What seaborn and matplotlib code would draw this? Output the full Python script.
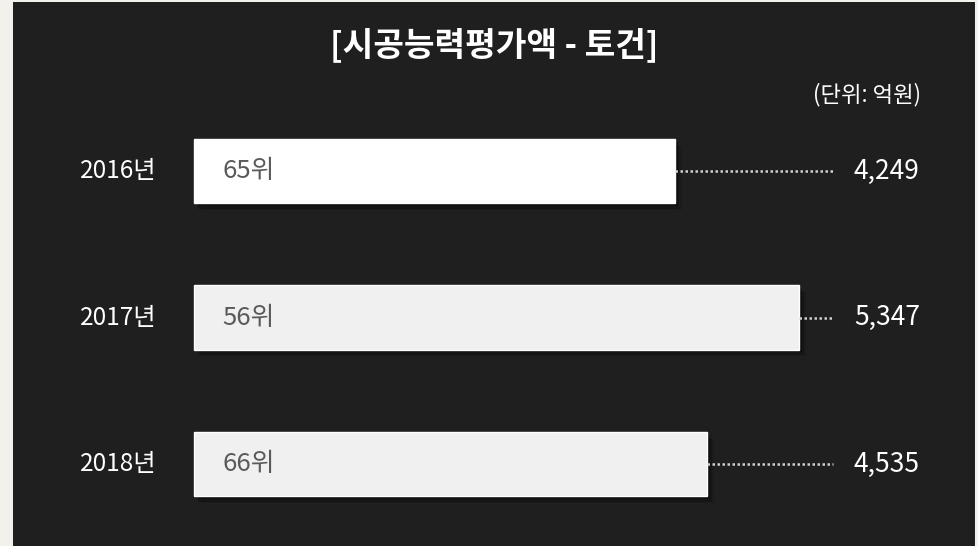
import pandas as pd
import seaborn as sns
import matplotlib.pyplot as plt
import matplotlib.patheffects as pe
from matplotlib import transforms

# data
years = ['2016년', '2017년', '2018년']
amounts = [4249, 5347, 4535]  # 억원
ranks = ['65위', '56위', '66위']
bar_colors = ['#ffffff', '#f0f0f0', '#f0f0f0']

df = pd.DataFrame({'year': years, 'amount': amounts, 'rank': ranks})

sns.set_theme(style='white')
plt.rcParams['font.family'] = ['Noto Sans CJK KR', 'DejaVu Sans']

fig = plt.figure(figsize=(9.79, 5.46), dpi=100, facecolor='#f3f1ec')
# dark panel
ax = fig.add_axes([13 / 979, 0, 962 / 979, 544 / 546])
ax.set_facecolor('#1f1f1f')

sns.barplot(data=df, x='amount', y='year', hue='year', palette=bar_colors,
            orient='h', width=0.437, legend=False, ax=ax, saturation=1)

# soft-ish drop shadow
for bar in ax.patches:
    bar.set_path_effects([
        pe.SimplePatchShadow(offset=(5, -5), shadow_rgbFace='black', alpha=0.12),
        pe.SimplePatchShadow(offset=(3, -4), shadow_rgbFace='black', alpha=0.2),
        pe.SimplePatchShadow(offset=(2, -2), shadow_rgbFace='black', alpha=0.25),
        pe.Normal()])

ax.set_xlim(-1599, 6898)
ax.set_ylim(2.56, -1.154)
ax.set_xlabel('')
ax.set_ylabel('')
ax.set_xticks([])
ax.set_yticks([])
for s in ax.spines.values():
    s.set_visible(False)

trans = transforms.blended_transform_factory(ax.transAxes, ax.transData)
line_end = 0.852
x_end = ax.transData.inverted().transform(ax.transAxes.transform((line_end, 0)))[0]
for i, row in df.iterrows():
    # dotted leader from bar end to value label
    ax.plot([row['amount'], x_end], [i, i],
            color='#cfcfcf', lw=1.8, ls=(0, (1, 1)), zorder=1)
    ax.text(0.1497, i, row['year'], transform=trans, ha='right', va='center',
            color='white', fontsize=17.5)
    ax.text(0.218, i, row['rank'], transform=trans, ha='left', va='center',
            color='#5a5a5a', fontsize=18.5)
    ax.text(0.874, i, f"{row['amount']:,}", transform=trans, ha='left', va='center',
            color='white', fontsize=19)

fig.text(0.5046, 0.918, '[시공능력평가액 - 토건]', ha='center', va='center',
         color='white', fontsize=24, fontweight='bold')
fig.text(0.941, 0.826, '(단위: 억원)', ha='right', va='center',
         color='white', fontsize=16)

fig.savefig('out.png', dpi=100, facecolor=fig.get_facecolor())
